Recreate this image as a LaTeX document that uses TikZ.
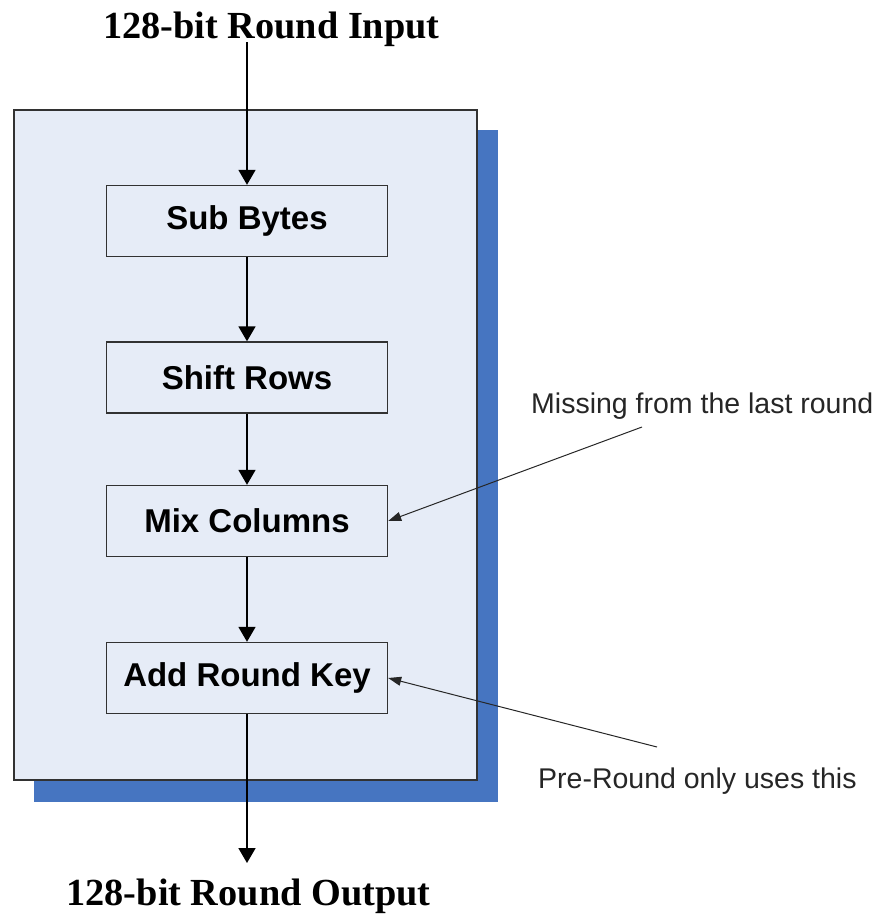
\documentclass[tikz,border=0pt]{standalone}
\usepackage{fontspec}
\setmainfont{Liberation Sans}
\newfontfamily\tnr{Liberation Serif}
\usetikzlibrary{arrows.meta}
\definecolor{panelfill}{RGB}{230,236,247}
\definecolor{shadowblue}{RGB}{70,117,193}
\definecolor{edgegray}{RGB}{50,50,50}
\begin{document}
\begin{tikzpicture}[x=1pt,y=-1pt,
  stepbox/.style={draw=edgegray, line width=1.4pt, fill=panelfill, minimum width=281pt, minimum height=71pt, inner sep=0pt, font=\fontsize{33}{36}\selectfont\bfseries},
  titletext/.style={inner sep=0pt, anchor=base, font=\fontsize{38.3}{42}\selectfont\tnr\bfseries},
  notetext/.style={inner sep=0pt, anchor=base west, font=\fontsize{28.5}{32}\selectfont, text=black!85},
  flow/.style={line width=1.8pt, -{Triangle[width=17pt,length=15pt]}},
  note/.style={line width=1pt, black!85, -{Triangle[width=9pt,length=13pt]}}]
\useasboundingbox (0,0) rectangle (883,914);
\fill[shadowblue] (34,130) rectangle (498,802);
\draw[fill=panelfill, line width=1.8pt, draw=edgegray] (14,110) rectangle (477,780);
\node[titletext] (in) at (271.5,38) {128-bit Round Input};
\node[titletext] (out) at (248.5,905) {128-bit Round Output};
\node[stepbox] (sb) at (247,221) {Sub Bytes};
\node[stepbox] (sr) at (247,377.5) {Shift Rows};
\node[stepbox] (mc) at (247,521) {Mix Columns};
\node[stepbox] (ark) at (247,678) {Add Round Key};
\node[notetext] (n1) at (531,413) {Missing from the last round};
\node[notetext] (n2) at (538,788) {Pre-Round only uses this};
\coordinate (c1) at (642,427);
\coordinate (c2) at (657,747);
\coordinate (outtop) at (247,863);
\draw[flow] (sb.north |- 0,42) -- (sb.north);
\draw[flow] (sb.south) -- (sr.north);
\draw[flow] (sr.south) -- (mc.north);
\draw[flow] (mc.south) -- (ark.north);
\draw[flow] (ark.south) -- (outtop);
\draw[note] (c1) -- (mc.east);
\draw[note] (c2) -- (ark.east);
\end{tikzpicture}
\end{document}
